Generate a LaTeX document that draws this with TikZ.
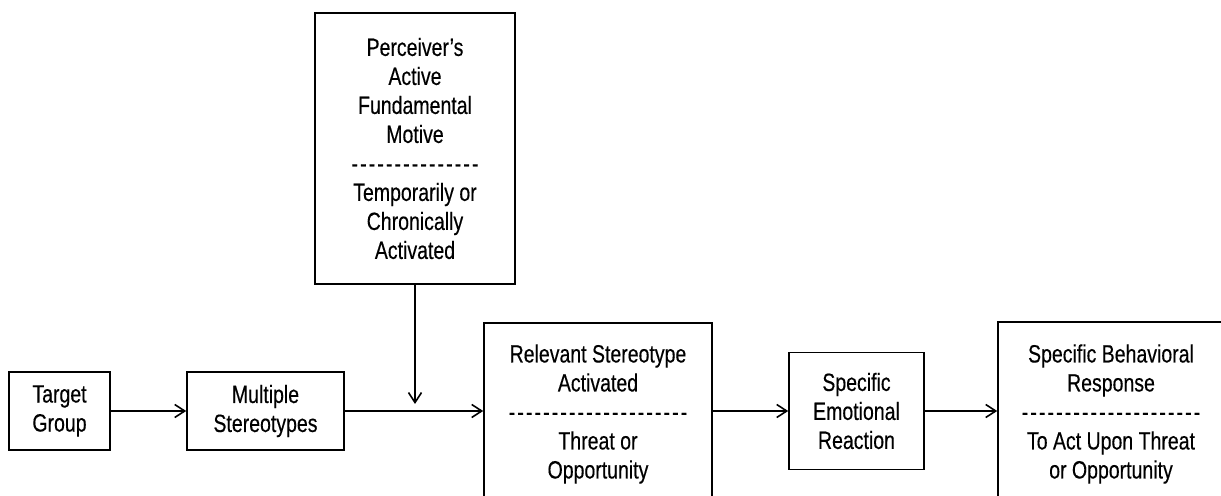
\documentclass[tikz,border=0pt]{standalone}
\usepackage{fontspec}
\setmainfont{Liberation Sans}[FakeStretch=0.78, FakeBold=0.3]
\usepackage{tikz}
\usetikzlibrary{arrows.meta,positioning,calc}

\newcommand{\hyphrow}[1]{\foreach \k in {1,...,#1}{\makebox[4.3pt]{-}}}

\begin{document}
\begin{tikzpicture}[
    x=0.5pt, y=-0.5pt,
    box/.style={draw, line width=0.8pt, inner sep=0pt, align=center,
                font=\fontsize{12.5}{14.5}\selectfont},
    arr/.style={-{Straight Barb[length=5pt,width=6.5pt]}, line width=0.8pt}
  ]
  \useasboundingbox (0,0) rectangle (1221,496);
  \clip (0,0) rectangle (1221,496);
  %% Left part of the chain
  \node[box, minimum width=50.5pt, minimum height=39pt] (tgt) at (59.5,411)
       {Target\\Group};
  \node[box, minimum width=78.5pt, minimum height=39pt] (mul) at (265.5,411)
       {Multiple\\Stereotypes};
  %% Motive box on top
  \node[box, minimum width=100pt, minimum height=135.5pt] (mot) at (415,148.5)
       {Perceiver’s\\Active\\Fundamental\\Motive\\\hyphrow{15}\\Temporarily or\\Chronically\\Activated};
  %% Right part of the chain
  \node[box, minimum width=114pt, minimum height=91pt] (rel) at (598,414)
       {Relevant Stereotype\\Activated\\\hyphrow{21}\\Threat or\\Opportunity};
  \node[box, minimum width=67.5pt, minimum height=58.5pt] (emo) at (856.5,411)
       {Specific\\Emotional\\Reaction};
  \node[box, minimum width=113pt, minimum height=92pt] (beh) at (1111,414)
       {Specific Behavioral\\Response\\\hyphrow{21}\\To Act Upon Threat\\or Opportunity};
  %% Connectors
  \coordinate (motend) at (415,404);
  \draw[arr] (tgt) -- (mul);
  \draw[arr] (mul.east) -- (mul.east -| rel.west);
  \draw[arr] (mot) -- (motend);
  \draw[arr] (rel.east |- emo.west) -- (emo.west);
  \draw[arr] (emo.east) -- (emo.east -| beh.west);
\end{tikzpicture}
\end{document}
